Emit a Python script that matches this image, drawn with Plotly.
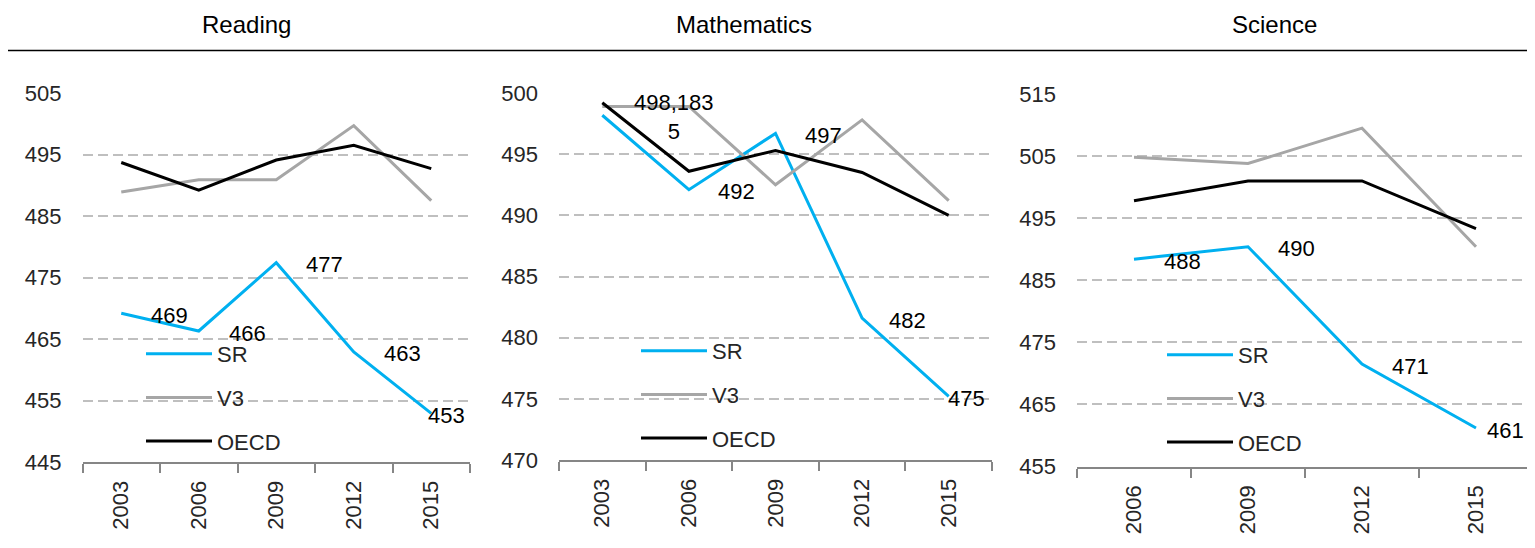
import plotly.graph_objects as go

# ---------------- data ----------------
reading_years = ["2003", "2006", "2009", "2012", "2015"]
reading_sr = [469.2, 466.3, 477.4, 462.9, 452.9]
reading_v3 = [488.9, 490.9, 490.9, 499.7, 487.5]
reading_oecd = [493.7, 489.2, 494.1, 496.5, 492.7]
reading_labels = ["469", "466", "477", "463", "453"]

math_years = ["2003", "2006", "2009", "2012", "2015"]
math_sr = [498.18, 492.1, 496.7, 481.6, 475.2]
math_v3 = [498.9, 498.9, 492.5, 497.8, 491.2]
math_oecd = [499.2, 493.6, 495.3, 493.5, 490.0]
math_labels = ["498,183<br>5", "492", "497", "482", "475"]

science_years = ["2006", "2009", "2012", "2015"]
science_sr = [488.4, 490.4, 471.5, 461.2]
science_v3 = [504.8, 503.8, 509.5, 490.4]
science_oecd = [497.8, 501.0, 501.0, 493.3]
science_labels = ["488", "490", "471", "461"]

titles = ["Reading", "Mathematics", "Science"]
series_names = ["SR", "V3", "OECD"]

# ---------------- style ----------------
FONT = "Liberation Sans, Arial, sans-serif"
OFF = 8                      # page body margin
W, H = 1535 - OFF, 548 - OFF
colors = {"SR": "#00B0F0", "V3": "#A6A6A6", "OECD": "#000000"}


def fx(px):
    return (px - OFF) / W


def fy(py):
    return 1 - (py - OFF) / H


panels = [
    dict(years=reading_years, sr=reading_sr, v3=reading_v3, oecd=reading_oecd,
         labels=reading_labels, yr=[445, 505], xpx=(82.5, 470), ypx=(93, 462),
         xshift=[28, 28, 28, 28, -5], leg=(141, 333), title_x=246),
    dict(years=math_years, sr=math_sr, v3=math_v3, oecd=math_oecd,
         labels=math_labels, yr=[470, 500], xpx=(559, 992), ypx=(93, 460),
         xshift=[30, 27, 27, 25, -3], leg=(636, 330), title_x=744),
    dict(years=science_years, sr=science_sr, v3=science_v3, oecd=science_oecd,
         labels=science_labels, yr=[455, 515], xpx=(1077, 1533), ypx=(94, 466.5),
         xshift=[28, 28, 28, 9], leg=(1162, 334), title_x=1274),
]
dticks = [10, 5, 10]

fig = go.Figure()
annotations = []
layout_axes = {}

for i, p in enumerate(panels):
    n = i + 1
    xa = "x" if n == 1 else f"x{n}"
    ya = "y" if n == 1 else f"y{n}"
    leg = "legend" if n == 1 else f"legend{n}"
    vals = {"SR": p["sr"], "V3": p["v3"], "OECD": p["oecd"]}
    for name in series_names:
        fig.add_trace(go.Scatter(
            x=p["years"], y=vals[name], mode="lines", name=name,
            line=dict(color=colors[name], width=3),
            xaxis=xa, yaxis=ya, legend=leg, legendgroup=f"{name}{n}",
            hoverinfo="skip",
        ))
    # data labels for SR (x given as category index)
    for j, (v, lab) in enumerate(zip(p["sr"], p["labels"])):
        annotations.append(dict(
            x=j, y=v, xref=xa, yref=ya, text=lab, showarrow=False,
            xanchor="left", yanchor="middle", xshift=p["xshift"][j], yshift=-2,
            font=dict(family=FONT, size=22, color="#000000"), align="center",
        ))
    # title
    annotations.append(dict(
        x=fx(p["title_x"]), y=fy(25), xref="paper", yref="paper",
        text=titles[i], showarrow=False, xanchor="center", yanchor="middle",
        font=dict(family=FONT, size=24, color="#000000"),
    ))
    x0, x1 = p["xpx"]
    yt, yb = p["ypx"]
    ncat = len(p["years"])
    layout_axes[f"xaxis{'' if n == 1 else n}"] = dict(
        domain=[fx(x0), min(fx(x1), 1.0)], anchor=ya, type="category",
        range=[-0.5, ncat - 0.5], showgrid=False, zeroline=False,
        showline=True, linecolor="#868686", linewidth=2,
        ticks="outside", tickson="boundaries", ticklen=9, tickwidth=2,
        tickcolor="#868686", tickangle=-90, ticklabelstandoff=8,
        tickfont=dict(family=FONT, size=22, color="#262626"),
        automargin=False, fixedrange=True,
    )
    layout_axes[f"yaxis{'' if n == 1 else n}"] = dict(
        domain=[fy(yb), fy(yt)], anchor=xa, range=p["yr"],
        dtick=dticks[i], tick0=p["yr"][0], showgrid=True,
        gridcolor="#BFBFBF", gridwidth=2, griddash="10px,5px",
        zeroline=False, showline=False, ticks="", ticklabelstandoff=20,
        tickfont=dict(family=FONT, size=22, color="#262626"),
        automargin=False, fixedrange=True,
    )
    lx, ly = p["leg"]
    layout_axes[leg] = dict(
        x=fx(lx), y=fy(ly), xanchor="left", yanchor="top",
        bgcolor="rgba(0,0,0,0)", borderwidth=0,
        font=dict(family=FONT, size=22, color="#262626"),
        tracegroupgap=12, traceorder="grouped", itemwidth=66,
    )

fig.update_layout(
    width=W, height=H, template="none",
    margin=dict(l=0, r=0, t=0, b=0),
    paper_bgcolor="white", plot_bgcolor="white",
    showlegend=True, annotations=annotations,
    shapes=[dict(type="line", xref="paper", yref="paper",
                 x0=0, x1=1, y0=fy(50.5), y1=fy(50.5),
                 line=dict(color="#000000", width=1.5))],
    **layout_axes,
)

fig.write_html("out.html")
